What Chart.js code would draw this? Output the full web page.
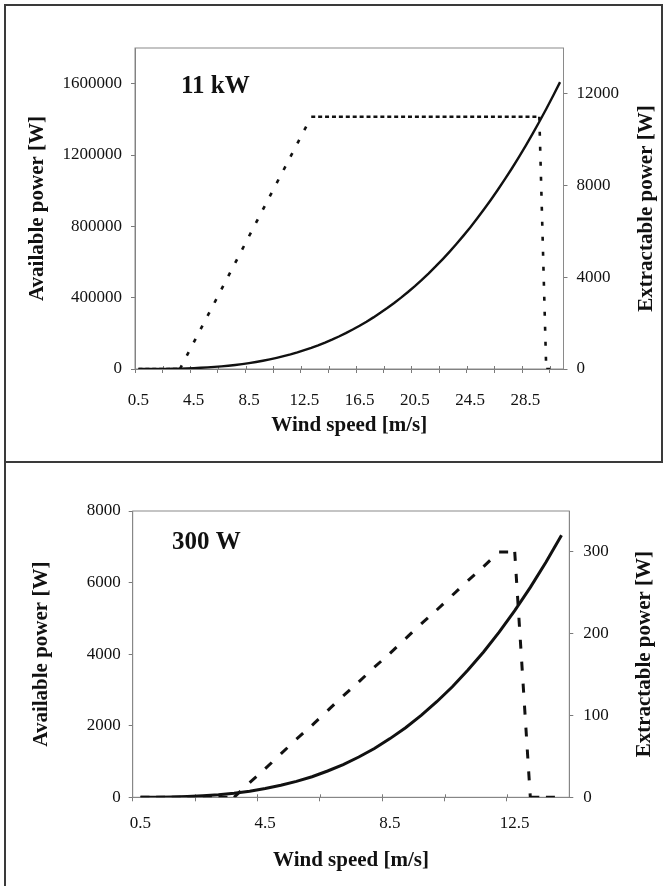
<!DOCTYPE html>
<html>
<head>
<meta charset="utf-8">
<script src="https://cdn.jsdelivr.net/npm/chart.js@4.4.1/dist/chart.umd.min.js"></script>
<style>
  body { margin: 0; background: #fff; }
  .wrap { position: relative; width: 667px; height: 886px; overflow: hidden; }
  canvas { position: absolute; left: 0; }
  #chartTop { top: 0; }
  #chartBottom { top: 462px; }
  .frame { position: absolute; box-sizing: border-box; pointer-events: none; }
</style>
</head>
<body>
<div class="wrap">
  <canvas id="chartTop" width="667" height="462"></canvas>
  <canvas id="chartBottom" width="667" height="424"></canvas>
  <div class="frame" style="left:4px;top:4px;width:659px;height:459px;border:2px solid #3a3a3a;"></div>
  <div class="frame" style="left:4px;top:461px;width:2px;height:425px;background:#3a3a3a;"></div>
</div>
<script>
// 11 kW turbine, wind speed in 0.5 m/s steps
const speedsTop = [0.5, 1, 1.5, 2, 2.5, 3, 3.5, 4, 4.5, 5, 5.5, 6, 6.5, 7, 7.5, 8, 8.5, 9, 9.5, 10,
    10.5, 11, 11.5, 12, 12.5, 13, 13.5, 14, 14.5, 15, 15.5, 16, 16.5, 17, 17.5, 18, 18.5, 19, 19.5, 20,
    20.5, 21, 21.5, 22, 22.5, 23, 23.5, 24, 24.5, 25, 25.5, 26, 26.5, 27, 27.5, 28, 28.5, 29, 29.5, 30,
    30.5, 31]
const availTop = [0, 50, 200, 400, 800, 1500, 2300, 3500, 4900, 6800, 9000, 11700, 14800, 18500, 22800, 27600, 33200, 39400, 46300, 54000,
    62500, 71900, 82100, 93300, 105500, 118600, 132900, 148200, 164600, 182300, 201100, 221200, 242600, 265300, 289400, 314900, 341900, 370400, 400400, 432000,
    465200, 500100, 536700, 575000, 615100, 657000, 700800, 746500, 794100, 843800, 895400, 949100, 1004900, 1062900, 1123000, 1185400, 1250100, 1317000, 1386300, 1458000,
    1532100, 1608700]
const extractTop = [0, 0, 0, 0, 0, 0, 0, 580, 1160, 1740, 2320, 2890, 3470, 4050, 4630, 5210, 5790, 6370, 6950, 7530,
    8110, 8680, 9260, 9840, 10420, 11000, 11000, 11000, 11000, 11000, 11000, 11000, 11000, 11000, 11000, 11000, 11000, 11000, 11000, 11000,
    11000, 11000, 11000, 11000, 11000, 11000, 11000, 11000, 11000, 11000, 11000, 11000, 11000, 11000, 11000, 11000, 11000, 11000, 11000, 0,
    0, null]
const availTicksTop = [0, 400000, 800000, 1200000, 1600000]
const extractTicksTop = [0, 4000, 8000, 12000]

// 300 W turbine
const speedsBottom = [0.5, 1, 1.5, 2, 2.5, 3, 3.5, 4, 4.5, 5, 5.5, 6, 6.5, 7, 7.5, 8, 8.5, 9, 9.5, 10,
    10.5, 11, 11.5, 12, 12.5, 13, 13.5, 14]
const availBottom = [0, 3, 9, 21, 42, 72, 115, 170, 245, 335, 445, 575, 735, 915, 1125, 1365, 1640, 1945, 2290, 2670,
    3090, 3555, 4060, 4615, 5215, 5865, 6570, 7325]
const extractBottom = [0, 0, 0, 0, 0, 0, 0, 18, 35, 53, 71, 88, 106, 124, 141, 159, 176, 194, 212, 229,
    247, 265, 282, 300, 300, 0, 0, 0]
const availTicksBottom = [0, 2000, 4000, 6000, 8000]
const extractTicksBottom = [0, 100, 200, 300]

const serif = "'Liberation Serif', 'Times New Roman', serif"
Chart.defaults.font.family = serif
Chart.defaults.color = '#111'

const plotFrame = {
    id: 'plotFrame',
    beforeDatasetsDraw(chart) {
        const a = chart.chartArea
        const ctx = chart.ctx
        ctx.save()
        ctx.strokeStyle = '#8a8a8a'
        ctx.lineWidth = 1
        ctx.strokeRect(a.left, a.top, a.right - a.left, a.bottom - a.top)
        // spreadsheet style "cross" tick marks: the part inside the plot
        const x = chart.scales.x
        ctx.strokeStyle = '#7a7a7a'
        ctx.beginPath()
        for (let i = 4; i < x.ticks.length; i += 4) {
            const px = x.getPixelForTick(i) - (x.getPixelForTick(i) - x.getPixelForTick(i - 1)) / 2
            ctx.moveTo(Math.round(px) + 0.5, a.bottom)
            ctx.lineTo(Math.round(px) + 0.5, a.bottom - 3)
        }
        ctx.stroke()
        ctx.restore()
    }
}

// panel label and the right-hand axis title (reads bottom to top, like the left one)
const extraText = {
    id: 'extraText',
    afterDraw(chart, args, opts) {
        const ctx = chart.ctx
        const a = chart.chartArea
        ctx.save()
        ctx.fillStyle = '#111'
        ctx.font = 'bold 25px ' + serif
        ctx.textBaseline = 'alphabetic'
        ctx.textAlign = 'left'
        ctx.fillText(opts.text, opts.x, opts.y)
        ctx.font = 'bold 21px ' + serif
        ctx.translate(opts.rightTitleX, (a.top + a.bottom) / 2)
        ctx.rotate(-Math.PI / 2)
        ctx.textAlign = 'center'
        ctx.textBaseline = 'middle'
        ctx.fillText('Extractable power [W]', 0, 0)
        ctx.restore()
    }
}

function makeChart(id, o) {
    const ctx = document.getElementById(id).getContext('2d')
    return new Chart(ctx, {
        type: 'line',
        data: {
            labels: o.speeds,
            datasets: [{
                label: 'Available power',
                data: o.avail,
                yAxisID: 'y',
                borderColor: '#111',
                borderWidth: o.solidWidth,
                pointRadius: 0,
                tension: 0
            }, {
                label: 'Extractable power',
                data: o.extract,
                yAxisID: 'y1',
                borderColor: '#111',
                borderWidth: o.dashWidth,
                borderDash: o.dash,
                pointRadius: 0,
                tension: 0,
                // restart the dash pattern on every segment, like the spreadsheet does
                segment: {
                    borderDashOffset: c => (c.p0DataIndex % 2) * 0.01
                }
            }]
        },
        options: {
            responsive: false,
            animation: false,
            layout: { padding: { top: o.padTop, left: 0, right: 0, bottom: 0 } },
            plugins: {
                legend: { display: false },
                tooltip: { enabled: false },
                extraText: o.corner
            },
            scales: {
                x: {
                    type: 'category',
                    offset: true,
                    grid: {
                        offset: true,
                        drawOnChartArea: false,
                        tickLength: 4,
                        color: c => (c.index % 4 === 0 ? '#7a7a7a' : 'rgba(0,0,0,0)')
                    },
                    border: { color: '#7a7a7a' },
                    ticks: {
                        autoSkip: false,
                        maxRotation: 0,
                        padding: o.xTickPad,
                        font: { size: 17 },
                        callback: function (value, index) {
                            return index % 8 === 0 ? String(this.getLabelForValue(value)) : ''
                        }
                    },
                    title: {
                        display: true,
                        text: 'Wind speed [m/s]',
                        font: { size: 21, weight: 'bold' },
                        padding: { top: 0, bottom: o.xTitlePad }
                    },
                    afterFit: s => { s.height = o.xHeight }
                },
                y: {
                    position: 'left',
                    min: 0,
                    max: o.leftMax,
                    afterBuildTicks: s => { s.ticks = o.leftTicks.map(v => ({ value: v })) },
                    grid: { drawOnChartArea: false, tickLength: 4, color: '#7a7a7a' },
                    border: { color: '#7a7a7a' },
                    ticks: { padding: o.leftTickPad, font: { size: 17 }, callback: v => String(v) },
                    title: {
                        display: true,
                        text: 'Available power [W]',
                        font: { size: 21, weight: 'bold' },
                        padding: { top: o.leftTitlePad, bottom: 0 }
                    },
                    afterFit: s => { s.width = o.leftWidth }
                },
                y1: {
                    position: 'right',
                    min: 0,
                    max: o.rightMax,
                    afterBuildTicks: s => { s.ticks = o.rightTicks.map(v => ({ value: v })) },
                    grid: { drawOnChartArea: false, tickLength: 4, color: '#7a7a7a' },
                    border: { color: '#7a7a7a' },
                    ticks: { padding: o.rightTickPad, font: { size: 17 }, callback: v => String(v) },
                    title: { display: false },
                    afterFit: s => { s.width = o.rightWidth }
                }
            }
        },
        plugins: [plotFrame, extraText]
    })
}

makeChart('chartTop', {
    speeds: speedsTop,
    avail: availTop,
    extract: extractTop,
    leftTicks: availTicksTop,
    rightTicks: extractTicksTop,
    leftMax: 1800000,
    rightMax: 14000,
    solidWidth: 2.4,
    dashWidth: 2.6,
    dash: [4, 11],
    padTop: 48,
    xHeight: 93,
    xTickPad: 17,
    xTitlePad: 24,
    leftWidth: 135,
    leftTickPad: 9,
    leftTitlePad: 25,
    rightWidth: 103.5,
    rightTickPad: 9,
    corner: { text: '11 kW', x: 181, y: 93, rightTitleX: 647 }
})

makeChart('chartBottom', {
    speeds: speedsBottom,
    avail: availBottom,
    extract: extractBottom,
    leftTicks: availTicksBottom,
    rightTicks: extractTicksBottom,
    leftMax: 8000,
    rightMax: 350,
    solidWidth: 3,
    dashWidth: 3,
    dash: [9, 13],
    padTop: 49,
    xHeight: 88.7,
    xTickPad: 12,
    xTitlePad: 13,
    leftWidth: 132.7,
    leftTickPad: 8,
    leftTitlePad: 29,
    rightWidth: 97.7,
    rightTickPad: 10,
    corner: { text: '300 W', x: 172, y: 87, rightTitleX: 645 }
})
</script>
</body>
</html>
